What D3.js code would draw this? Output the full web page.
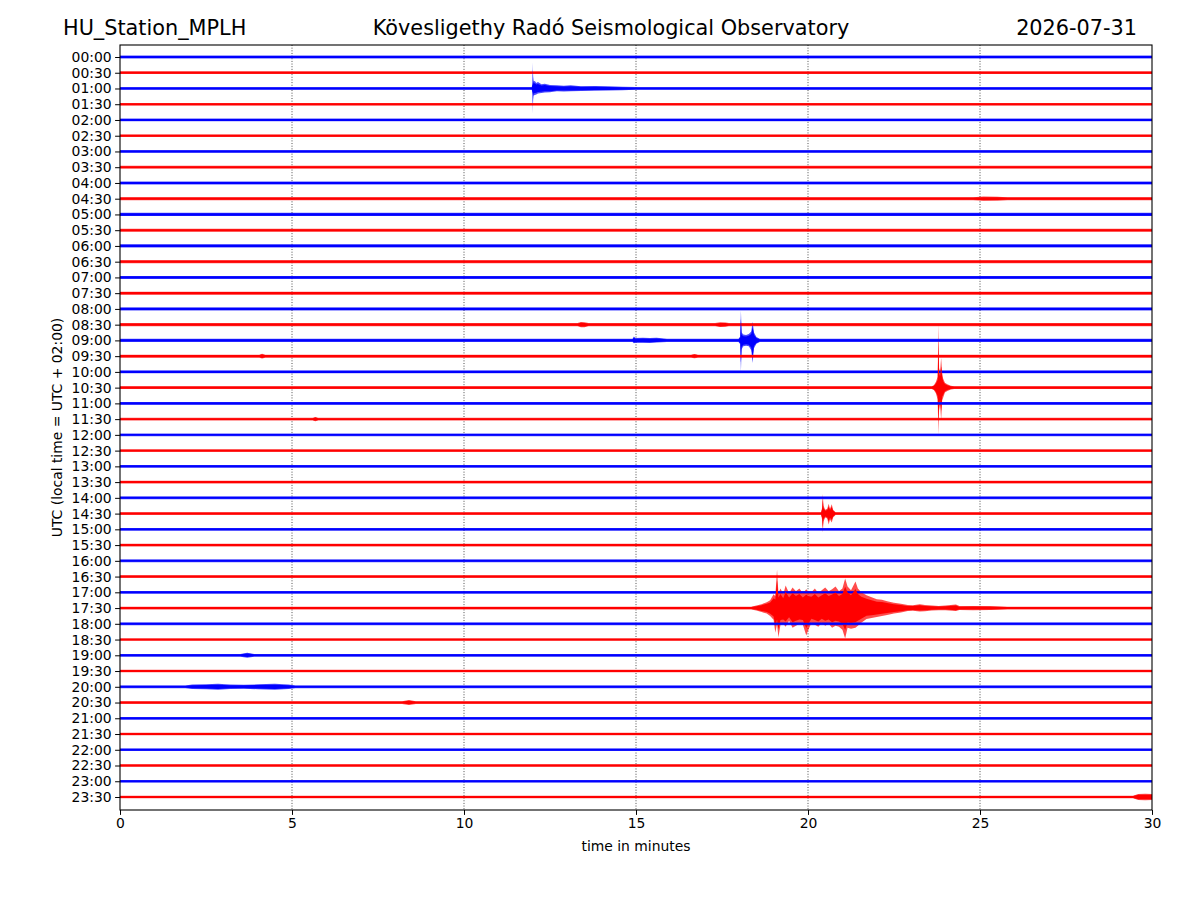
<!DOCTYPE html>
<html>
<head>
<meta charset="utf-8">
<script src="https://cdn.jsdelivr.net/npm/d3@7"></script>
<style>
  body { margin: 0; background: #fff; }
  svg { display: block; font-family: "DejaVu Sans", sans-serif; }
</style>
</head>
<body>
<div id="chart"></div>
<script>
// --- --- --- Data --- --- ---

const stationName = "HU_Station_MPLH";
const observatory = "Kövesligethy Radó Seismological Observatory";
const dayLabel = "2026-07-31";

// one trace per half hour (UTC start of the row)
const traceLabels = [
  "00:00","00:30","01:00","01:30","02:00","02:30","03:00","03:30",
  "04:00","04:30","05:00","05:30","06:00","06:30","07:00","07:30",
  "08:00","08:30","09:00","09:30","10:00","10:30","11:00","11:30",
  "12:00","12:30","13:00","13:30","14:00","14:30","15:00","15:30",
  "16:00","16:30","17:00","17:30","18:00","18:30","19:00","19:30",
  "20:00","20:30","21:00","21:30","22:00","22:30","23:00","23:30"
];

// background noise half-width of each trace, counts
const traceNoise = [
  14,14,14,13,14,13,14,14, 15,16,17,15,16,15,15,15,
  15,16,16,15,15,15,15,14, 14,14,14,14,14,14,14,14,
  14,14,14,14,14,13,14,13, 14,14,14,13,13,13,13,13
];

const minuteTicks = [0, 5, 10, 15, 20, 25, 30];
const gridMinutes = [5, 10, 15, 20, 25];

// event envelopes: [minute, upper amplitude, lower amplitude] in counts
const events0100 = [[11.97,14,14],[11.995,60,60],[12.0,265,255],[12.01,120,110],[12.02,70,70],[12.06,75,65],
  [12.1,55,60],[12.15,65,50],[12.25,42,45],[12.35,48,40],[12.5,36,38],[12.7,32,28],[12.9,28,30],
  [13.1,32,28],[13.4,24,26],[13.8,25,22],[14.2,22,20],[14.6,18,18],[15.0,14,14]];
const events0430 = [[24.8,16,16],[25.1,22,22],[25.5,20,20],[25.8,16,16]];
const events0830 = [[13.3,16,16],[13.4,27,27],[13.5,25,27],[13.62,16,16],
  [17.3,16,16],[17.45,25,25],[17.6,22,22],[17.7,16,16]];
const events0900 = [[14.9,16,16],[14.94,40,30],[14.98,25,25],[15.2,27,25],[15.4,25,27],[15.6,28,22],[15.9,16,16],
  [17.98,16,16],[18.03,40,40],[18.05,305,315],[18.07,80,90],[18.12,60,60],[18.2,55,55],[18.28,65,60],
  [18.35,90,100],[18.39,190,230],[18.43,80,80],[18.5,35,35],[18.6,16,16]];
const events0930 = [[4.05,15,15],[4.13,25,25],[4.22,15,15],[16.6,15,15],[16.7,22,22],[16.8,15,15]];
const events1030 = [[23.6,15,15],[23.66,25,25],[23.72,60,60],[23.77,110,120],[23.79,650,480],[23.81,200,230],
  [23.84,160,170],[23.87,300,330],[23.9,150,130],[23.93,90,100],[23.98,50,50],[24.05,35,35],
  [24.15,20,20],[24.25,15,15]];
const events1130 = [[5.6,14,14],[5.68,22,22],[5.76,14,14]];
const events1430 = [[20.38,14,14],[20.41,60,60],[20.43,200,195],[20.45,80,80],[20.5,40,40],[20.56,50,50],
  [20.6,100,110],[20.64,50,60],[20.69,95,90],[20.73,40,40],[20.8,14,14]];
const events1730 = [[18.35,14,14],[18.5,25,25],[18.65,40,40],[18.8,60,55],[18.9,80,80],[19.0,140,120],
  [19.05,120,250],[19.1,390,160],[19.14,150,300],[19.2,200,170],[19.28,140,160],[19.35,230,190],
  [19.45,150,130],[19.55,210,200],[19.65,170,180],[19.75,200,160],[19.85,150,170],[19.95,190,280],
  [20.0,170,230],[20.1,160,150],[20.2,200,170],[20.3,150,190],[20.4,180,150],[20.5,210,180],
  [20.6,170,160],[20.7,190,200],[20.8,220,180],[20.9,170,190],[21.0,200,220],[21.08,300,310],
  [21.15,220,200],[21.25,180,210],[21.38,270,200],[21.45,200,180],[21.55,160,150],[21.7,130,110],
  [21.85,110,100],[22.0,90,90],[22.15,85,80],[22.3,70,70],[22.5,55,55],[22.7,45,45],[22.9,30,30],
  [23.05,28,28],[23.25,38,35],[23.4,30,32],[23.6,25,25],[23.8,22,22],[24.0,25,22],[24.3,35,30],
  [24.4,20,20],[24.8,22,22],[25.3,20,20],[25.8,14,14]];
const events1900 = [[3.5,14,14],[3.7,25,25],[3.9,14,14]];
const events2000 = [[1.9,14,14],[2.1,22,22],[2.5,25,25],[2.85,30,30],[3.2,22,22],[3.6,20,20],
  [4.0,25,25],[4.5,30,30],[4.9,22,22],[5.1,14,14]];
const events2030 = [[8.2,14,14],[8.4,25,25],[8.6,14,14]];
const events2330 = [[29.45,13,13],[29.6,30,30],[29.8,32,32],[30,30,30]];

const traceEvents = {
  "01:00": events0100, "04:30": events0430, "08:30": events0830, "09:00": events0900,
  "09:30": events0930, "10:30": events1030, "11:30": events1130, "14:30": events1430,
  "17:30": events1730, "19:00": events1900, "20:00": events2000, "20:30": events2030,
  "23:30": events2330
};

const traceColors = ["#0000ff", "#ff0000"];

// --- --- --- Chart --- --- ---

const width = 1200, height = 900;
const margin = { top: 45, right: 48, bottom: 90, left: 120 };

const svg = d3.select("#chart").append("svg")
  .attr("width", width)
  .attr("height", height);

const x = d3.scaleLinear()
  .domain([0, 30])
  .range([margin.left, width - margin.right]);

const y = d3.scalePoint()
  .domain(traceLabels)
  .range([57, 797]);

// one trace spacing = 160 counts
const amp = d3.scaleLinear().domain([0, 160]).range([0, y.step()]);

svg.append("defs").append("clipPath").attr("id", "plotClip")
  .append("rect")
  .attr("x", margin.left).attr("y", margin.top)
  .attr("width", width - margin.left - margin.right)
  .attr("height", height - margin.top - margin.bottom);

// grid
svg.append("g")
  .selectAll("line")
  .data(gridMinutes)
  .join("line")
  .attr("x1", d => x(d)).attr("x2", d => x(d))
  .attr("y1", margin.top).attr("y2", height - margin.bottom)
  .attr("stroke", "#000")
  .attr("stroke-width", 0.7)
  .attr("stroke-dasharray", "1,1.65");

// traces: softer outer envelope + dense core
const areaAt = k => d3.area()
  .x(d => x(d[0]))
  .y0(d => d.base + k * amp(d[2]))
  .y1(d => d.base - k * amp(d[1]));
const outerArea = areaAt(1);
const innerArea = areaAt(0.72);

const traces = traceLabels.map((label, i) => {
  const n = traceNoise[i];
  const base = y(label);
  const ev = traceEvents[label] || [];
  const pts = [[0, n, n], ...ev];
  if (pts[pts.length - 1][0] < 30) pts.push([30, n, n]);
  pts.forEach(p => p.base = base);
  return { label, i, pts };
});

const traceG = svg.append("g").attr("clip-path", "url(#plotClip)");

traceG.selectAll("path.outer")
  .data(traces)
  .join("path")
  .attr("class", "outer")
  .attr("d", d => outerArea(d.pts))
  .attr("fill", d => traceColors[d.i % 2])
  .attr("fill-opacity", 0.7);

traceG.selectAll("path.inner")
  .data(traces)
  .join("path")
  .attr("class", "inner")
  .attr("d", d => innerArea(d.pts))
  .attr("fill", d => traceColors[d.i % 2]);

// axes
const axisLeft = svg.append("g")
  .attr("transform", `translate(${margin.left},0)`)
  .call(d3.axisLeft(y).tickSize(4.9).tickPadding(3.5).tickSizeOuter(0));
axisLeft.select(".domain").remove();

const axisBottom = svg.append("g")
  .attr("transform", `translate(0,${height - margin.bottom})`)
  .call(d3.axisBottom(x).tickValues(minuteTicks).tickSize(4.9).tickPadding(3.5).tickFormat(d3.format("d")));
axisBottom.select(".domain").remove();

svg.selectAll(".tick text")
  .attr("font-family", "DejaVu Sans")
  .attr("font-size", "13.9px")
  .attr("fill", "#000");
svg.selectAll(".tick line").attr("stroke", "#000").attr("stroke-width", 1);

// frame
svg.append("rect")
  .attr("x", margin.left).attr("y", margin.top)
  .attr("width", width - margin.left - margin.right)
  .attr("height", height - margin.top - margin.bottom)
  .attr("fill", "none")
  .attr("stroke", "#000")
  .attr("stroke-width", 1.1);

// labels
svg.append("text")
  .attr("x", (margin.left + width - margin.right) / 2)
  .attr("y", 851)
  .attr("text-anchor", "middle")
  .attr("font-size", "13.9px")
  .text("time in minutes");

svg.append("text")
  .attr("transform", `translate(62,${(margin.top + height - margin.bottom) / 2}) rotate(-90)`)
  .attr("text-anchor", "middle")
  .attr("font-size", "13.9px")
  .text("UTC (local time = UTC + 02:00)");

// titles
svg.append("text").attr("x", 63).attr("y", 35)
  .attr("font-size", "20.8px").text(stationName);
svg.append("text").attr("x", 611).attr("y", 35)
  .attr("text-anchor", "middle").attr("font-size", "20.8px").text(observatory);
svg.append("text").attr("x", 1137).attr("y", 35)
  .attr("text-anchor", "end").attr("font-size", "20.8px").text(dayLabel);
</script>
</body>
</html>
